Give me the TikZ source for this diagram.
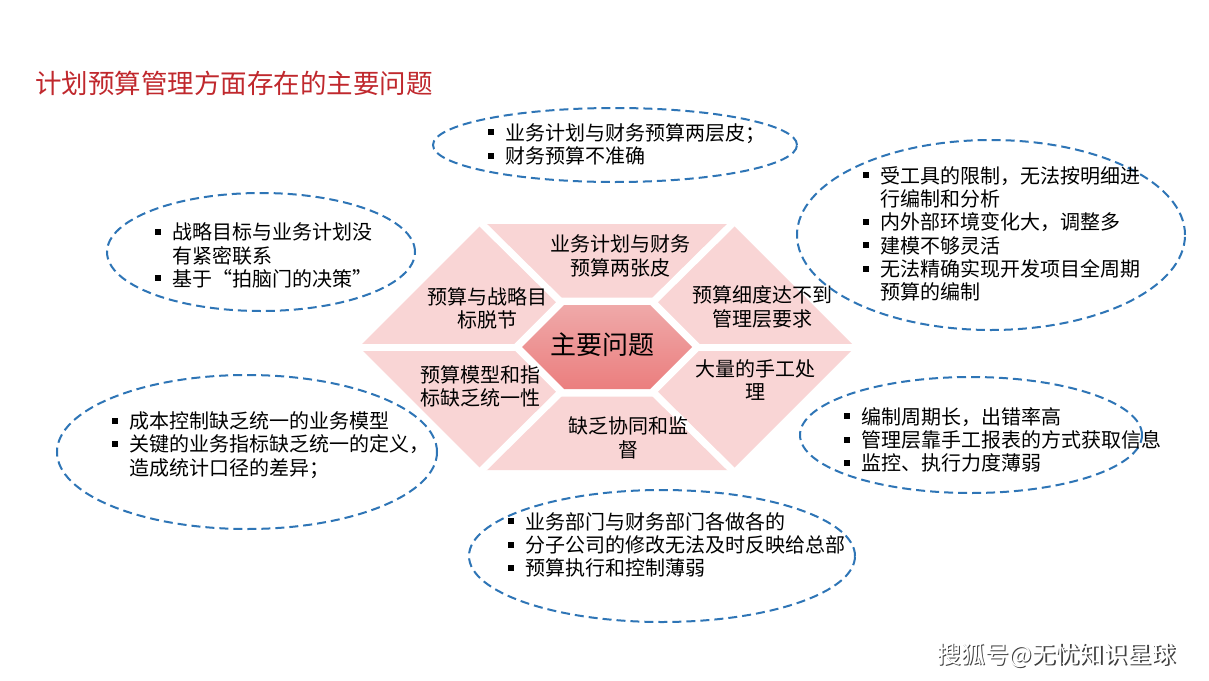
\documentclass[tikz,border=0pt]{standalone}
\usepackage{fontspec}
\setmainfont{Noto Sans CJK SC}
\usetikzlibrary{shapes.geometric}
\definecolor{pinkp}{HTML}{F9D5D5}
\definecolor{hextop}{HTML}{EFA9A9}
\definecolor{hexbot}{HTML}{EB7E7E}
\definecolor{dashblue}{HTML}{2E75B6}
\definecolor{titlered}{HTML}{C0282D}
\newcommand\bul{\makebox[17pt][l]{\raisebox{5pt}{\rule{6pt}{6pt}}}}
\newcommand\ind{\hspace*{17pt}}
\begin{document}
\begin{tikzpicture}[x=1pt,y=-1pt,
  ell/.style={ellipse, draw=dashblue, line width=2pt, dash pattern=on 9pt off 5pt, inner sep=0pt, outer sep=0pt},
  lst/.style={anchor=west, align=left, inner sep=0pt, font=\fontsize{20}{23.3}\selectfont},
  hx/.style={align=center, inner sep=0pt, font=\fontsize{20}{23.3}\selectfont},
  spoke/.style={white, line width=7pt, line cap=rect}]
\useasboundingbox (0,0) rectangle (1209,680);
\fill[white] (0,0) rectangle (1209,680);

% title
\node[anchor=west, inner sep=0pt, text=titlered, font=\fontsize{26.5}{30}\selectfont] (title) at (35,83) {计划预算管理方面存在的主要问题};

% central hexagon
\coordinate (c) at (607,347);
\coordinate (o1) at (359,347);
\coordinate (o2) at (482,224);
\coordinate (o3) at (732,224);
\coordinate (o4) at (855,347);
\coordinate (o5) at (732,470);
\coordinate (o6) at (482,470);
\coordinate (i1) at (522,347);
\coordinate (i2) at (564,305);
\coordinate (i3) at (650,305);
\coordinate (i4) at (692,347);
\coordinate (i5) at (650,389);
\coordinate (i6) at (564,389);
\fill[pinkp] (o1) -- (o2) -- (o3) -- (o4) -- (o5) -- (o6) -- cycle;
\foreach \k in {1,...,6} \draw[spoke] (i\k) -- (o\k);
\draw[white, line width=15pt, line join=miter] (i1) -- (i2) -- (i3) -- (i4) -- (i5) -- (i6) -- cycle;
\shade[top color=hextop, bottom color=hexbot] (i1) -- (i2) -- (i3) -- (i4) -- (i5) -- (i6) -- cycle;

\node[inner sep=0pt, font=\fontsize{26}{30}\selectfont] (main) at (602,345) {主要问题};
\node[hx] (p1) at (620,256) {业务计划与财务\\预算两张皮};
\node[hx] (p2) at (487,308) {预算与战略目\\标脱节};
\node[hx] (p3) at (762,307) {预算细度达不到\\管理层要求};
\node[hx] (p4) at (480,386) {预算模型和指\\标缺乏统一性};
\node[hx] (p5) at (755,380) {大量的手工处\\理};
\node[hx] (p6) at (628,438) {缺乏协同和监\\督};

% ellipses
\node[ell, minimum width=364pt, minimum height=74pt] (e1) at (615,145) {};
\node[ell, minimum width=388pt, minimum height=190pt] (e2) at (991,235) {};
\node[ell, minimum width=308pt, minimum height=118pt] (e3) at (261,252) {};
\node[ell, minimum width=380pt, minimum height=154pt] (e4) at (247,452) {};
\node[ell, minimum width=342pt, minimum height=116pt] (e5) at (971,435) {};
\node[ell, minimum width=386pt, minimum height=132pt] (e6) at (662,556) {};

\node[lst] (t1) at (488,144.5) {\bul 业务计划与财务预算两层皮；\\\bul 财务预算不准确};
\node[lst] (t2) at (863,234) {\bul 受工具的限制，无法按明细进\\\ind 行编制和分析\\\bul 内外部环境变化大，调整多\\\bul 建模不够灵活\\\bul 无法精确实现开发项目全周期\\\ind 预算的编制};
\node[lst] (t3) at (155,255.5) {\bul 战略目标与业务计划没\\\ind 有紧密联系\\\bul 基于“拍脑门的决策”};
\node[lst] (t4) at (112,445) {\bul 成本控制缺乏统一的业务模型\\\bul 关键的业务指标缺乏统一的定义，\\\ind 造成统计口径的差异；};
\node[lst] (t5) at (844,440) {\bul 编制周期长，出错率高\\\bul 管理层靠手工报表的方式获取信息\\\bul 监控、执行力度薄弱};
\node[lst] (t6) at (508,545) {\bul 业务部门与财务部门各做各的\\\bul 分子公司的修改无法及时反映给总部\\\bul 预算执行和控制薄弱};

% watermark
\node[anchor=west, inner sep=0pt, text=black!75, font=\fontsize{24}{28}\selectfont] (wms) at (938.2,656.2) {搜狐号@无忧知识星球};
\node[anchor=west, inner sep=0pt, text=white, font=\fontsize{24}{28}\selectfont] (wm) at (937,655) {搜狐号@无忧知识星球};
\end{tikzpicture}
\end{document}
